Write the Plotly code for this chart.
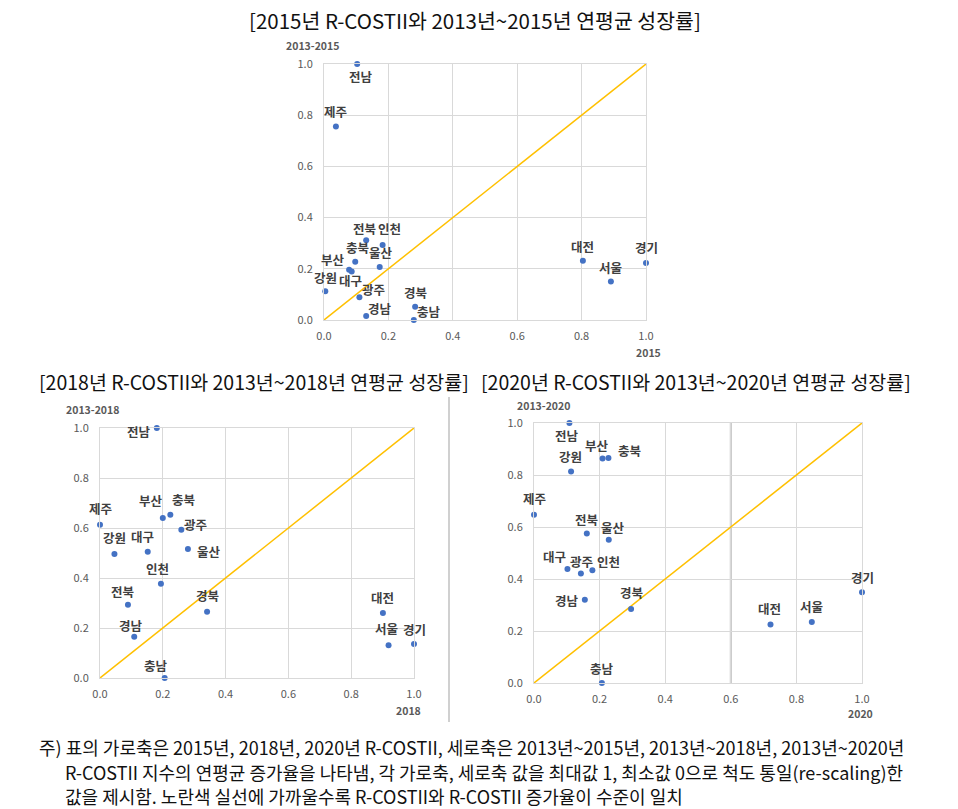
import plotly.graph_objects as go

W, H = 958, 809

# ---------------- data ----------------
regions_2015 = ["전남", "제주", "전북", "인천", "충북", "울산", "부산", "대구",
                "강원", "광주", "경남", "경북", "충남", "대전", "서울", "경기"]
x_2015 = [0.103, 0.037, 0.131, 0.182, 0.097, 0.173, 0.078, 0.086,
          0.004, 0.110, 0.131, 0.283, 0.279, 0.804, 0.891, 1.0]
y_2015 = [1.0, 0.756, 0.312, 0.293, 0.228, 0.207, 0.196, 0.189,
          0.112, 0.089, 0.016, 0.052, 0.0, 0.231, 0.150, 0.223]

regions_2018 = ["전남", "제주", "부산", "충북", "광주", "울산", "강원", "대구",
                "인천", "전북", "경북", "경남", "충남", "대전", "서울", "경기"]
x_2018 = [0.181, 0.0, 0.200, 0.224, 0.259, 0.280, 0.046, 0.152,
          0.194, 0.089, 0.341, 0.109, 0.206, 0.901, 0.919, 1.0]
y_2018 = [1.0, 0.613, 0.640, 0.653, 0.593, 0.516, 0.496, 0.505,
          0.377, 0.293, 0.265, 0.165, 0.0, 0.260, 0.131, 0.136]

regions_2020 = ["전남", "부산", "충북", "강원", "제주", "전북", "울산", "대구",
                "광주", "인천", "경남", "경북", "충남", "대전", "서울", "경기"]
x_2020 = [0.108, 0.209, 0.227, 0.113, 0.0, 0.161, 0.228, 0.102,
          0.143, 0.178, 0.155, 0.296, 0.207, 0.721, 0.847, 1.0]
y_2020 = [1.0, 0.863, 0.865, 0.813, 0.647, 0.575, 0.551, 0.438,
          0.421, 0.434, 0.320, 0.285, 0.0, 0.225, 0.235, 0.349]

tick_vals = [0.0, 0.2, 0.4, 0.6, 0.8, 1.0]
tick_text = ["0.0", "0.2", "0.4", "0.6", "0.8", "1.0"]

titles = ["[2015년 R-COSTII와 2013년~2015년 연평균 성장률]",
          "[2018년 R-COSTII와 2013년~2018년 연평균 성장률]",
          "[2020년 R-COSTII와 2013년~2020년 연평균 성장률]"]
y_titles = ["2013-2015", "2013-2018", "2013-2020"]
x_titles = ["2015", "2018", "2020"]

note_lines = [
    "주) 표의 가로축은 2015년, 2018년, 2020년 R-COSTII, 세로축은 2013년~2015년, 2013년~2018년, 2013년~2020년",
    "R-COSTII 지수의 연평균 증가율을 나타냄, 각 가로축, 세로축 값을 최대값 1, 최소값 0으로 척도 통일(re-scaling)한",
    "값을 제시함. 노란색 실선에 가까울수록 R-COSTII와 R-COSTII 증가율이 수준이 일치",
]

# ---------------- label offsets (px: right, down) ----------------
off_2015 = [(4, 13), (0, -15), (-2, -12), (7, -16), (2, -14), (1, -15), (-16, -10), (-1, 9),
            (0, -14), (14, -8), (14, -7), (0, -14), (15, -9), (0, -14), (0, -14), (0, -15)]
off_2018 = [(-18, 3), (0, -16), (-12, -18), (13, -15), (14, -5), (21, 2), (0, -17), (-5, -15),
            (-3, -15), (-5, -13), (0, -16), (-3, -11), (-9, -13), (0, -16), (-2, -17), (0, -15)]
off_2020 = [(-2, 12), (-6, -13), (21, -8), (-1, -15), (0, -16), (0, -14), (4, -12), (-13, -13),
            (1, -12), (16, -9), (-18, 1), (0, -16), (0, -15), (-1, -16), (0, -15), (0, -15)]

# ---------------- layout geometry (pixels) ----------------
boxes = [  # x0, x1, y0(top), y1(bottom)
    (324, 646, 64, 320),
    (100, 414, 428, 678),
    (534, 862, 423, 683),
]

FONT = "Noto Sans CJK KR"
BLUE = "#4472C4"
YELLOW = "#FFC000"
GRID = "#D9D9D9"
TICK = "#595959"

fig = go.Figure()
annotations = []
shapes = []

datasets = [(regions_2015, x_2015, y_2015, off_2015),
            (regions_2018, x_2018, y_2018, off_2018),
            (regions_2020, x_2020, y_2020, off_2020)]

for i, ((regs, xs, ys, offs), box) in enumerate(zip(datasets, boxes)):
    n = "" if i == 0 else str(i + 1)
    xa, ya = "x" + n, "y" + n
    x0, x1, yt, yb = box
    fig.add_trace(go.Scatter(x=[0, 1], y=[0, 1], mode="lines",
                             line=dict(color=YELLOW, width=1.5),
                             xaxis=xa, yaxis=ya, showlegend=False, hoverinfo="skip"))
    fig.add_trace(go.Scatter(x=xs, y=ys, mode="markers",
                             marker=dict(color=BLUE, size=6),
                             xaxis=xa, yaxis=ya, showlegend=False, cliponaxis=False))
    for r, xv, yv, (dx, dy) in zip(regs, xs, ys, offs):
        annotations.append(dict(x=xv, y=yv, xref=xa, yref=ya, text=r, showarrow=False,
                                xshift=dx, yshift=-dy,
                                font=dict(family=FONT, size=12.5, color="#404040", weight="bold")))
    axis_common = dict(range=[0, 1], tickvals=tick_vals, ticktext=tick_text,
                       showgrid=True, gridcolor=GRID, gridwidth=1,
                       zeroline=False, showline=True, linecolor=GRID, linewidth=1, mirror=True,
                       ticks="", tickfont=dict(family=FONT, size=11, color=TICK),
                       fixedrange=True, automargin=False)
    fig.update_layout(**{
        "xaxis" + n: dict(domain=[x0 / W, x1 / W], anchor=ya, ticklabelstandoff=6, **axis_common),
        "yaxis" + n: dict(domain=[1 - yb / H, 1 - yt / H], anchor=xa, ticklabelstandoff=8, **axis_common),
    })

# extra darker gridline at 0.6 in third chart
shapes.append(dict(type="line", xref="x3", yref="y3", x0=0.6, x1=0.6, y0=0, y1=1,
                   line=dict(color="#BFBFBF", width=2), layer="below"))
# separator between lower charts
shapes.append(dict(type="line", xref="paper", yref="paper", x0=449 / W, x1=449 / W,
                   y0=1 - 722 / H, y1=1 - 397 / H, line=dict(color="#D0D0D0", width=2)))

# axis titles
ytitle_pos = [(312, 46), (92, 409), (543, 406)]
xtitle_pos = [(648, 352), (408, 710), (860, 713)]
for t, (px, py) in zip(y_titles, ytitle_pos):
    annotations.append(dict(x=px / W, y=1 - py / H, xref="paper", yref="paper", text=t,
                            showarrow=False, xanchor="center", yanchor="middle",
                            font=dict(family=FONT, size=10.5, color=TICK, weight="bold")))
for t, (px, py) in zip(x_titles, xtitle_pos):
    annotations.append(dict(x=px / W, y=1 - py / H, xref="paper", yref="paper", text=t,
                            showarrow=False, xanchor="center", yanchor="middle",
                            font=dict(family=FONT, size=10.5, color=TICK, weight="bold")))

# chart titles
title_pos = [(475, 20, 20.5), (254, 382, 19.5), (696, 382, 19.5)]
for t, (px, py, fs) in zip(titles, title_pos):
    annotations.append(dict(x=px / W, y=1 - py / H, xref="paper", yref="paper", text=t,
                            showarrow=False, xanchor="center", yanchor="middle",
                            font=dict(family=FONT, size=fs, color="#111111")))

# footnote
note_pos = [(37, 747), (63, 772), (63, 796)]
for t, (px, py) in zip(note_lines, note_pos):
    annotations.append(dict(x=px / W, y=1 - py / H, xref="paper", yref="paper", text=t,
                            showarrow=False, xanchor="left", yanchor="middle",
                            font=dict(family=FONT, size=18, color="#111111")))

fig.update_layout(width=W, height=H, margin=dict(l=0, r=0, t=0, b=0, autoexpand=False),
                  paper_bgcolor="white", plot_bgcolor="white",
                  annotations=annotations, shapes=shapes)

fig.write_html("out.html")
